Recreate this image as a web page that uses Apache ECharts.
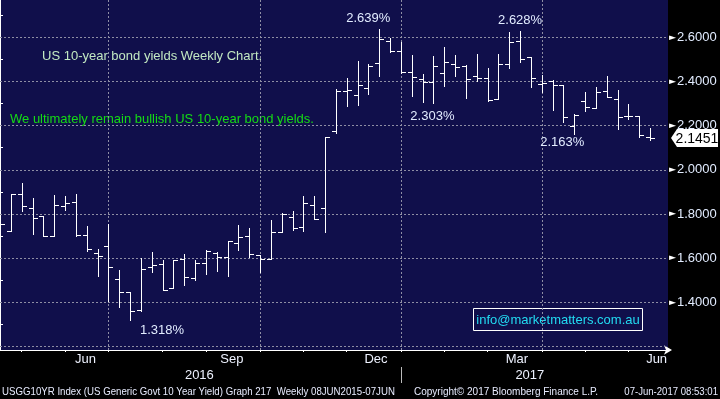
<!DOCTYPE html>
<html>
<head>
<meta charset="utf-8">
<script src="https://cdn.jsdelivr.net/npm/echarts@6/dist/echarts.min.js"></script>
<style>
  html, body { margin: 0; padding: 0; background: #000; }
  #chart { width: 720px; height: 399px; }
</style>
</head>
<body>
<div id="chart"></div>
<script>
// weekly OHLC, US 10y yield (bar index 0 = first visible week)
var opens  = [1.752, 1.724, 1.890, 1.826, 1.789, 1.699, 1.835, 1.853, 1.703, 1.622,
              1.653, 1.504, 1.445, 1.364, 1.558, 1.572, 1.463, 1.595, 1.508, 1.576,
              1.622, 1.604, 1.667, 1.699, 1.613, 1.596, 1.717, 1.788, 1.739, 1.839,
              1.828, 2.174, 2.357, 2.337, 2.369, 2.482, 2.582, 2.537, 2.444, 2.410,
              2.396, 2.437, 2.478, 2.469, 2.423, 2.414, 2.322, 2.479, 2.582, 2.509,
              2.387, 2.401, 2.383, 2.198, 2.311, 2.278, 2.358, 2.322, 2.245, 2.245,
              2.150];
var closes = [1.754, 1.890, 1.836, 1.780, 1.699, 1.839, 1.851, 1.703, 1.640, 1.608,
              1.558, 1.445, 1.360, 1.549, 1.567, 1.454, 1.590, 1.513, 1.576, 1.632,
              1.604, 1.676, 1.694, 1.617, 1.595, 1.717, 1.798, 1.735, 1.848, 1.776,
              2.150, 2.357, 2.360, 2.383, 2.469, 2.591, 2.537, 2.444, 2.419, 2.398,
              2.469, 2.487, 2.464, 2.410, 2.414, 2.315, 2.479, 2.577, 2.500, 2.414,
              2.392, 2.383, 2.238, 2.249, 2.283, 2.354, 2.328, 2.238, 2.245, 2.158,
              2.1451];
var lows   = [1.748, 1.724, 1.815, 1.708, 1.699, 1.699, 1.819, 1.699, 1.631, 1.520,
              1.406, 1.380, 1.318, 1.359, 1.538, 1.454, 1.463, 1.480, 1.499, 1.529,
              1.543, 1.520, 1.637, 1.606, 1.538, 1.596, 1.717, 1.727, 1.724, 1.776,
              1.720, 2.168, 2.290, 2.295, 2.342, 2.426, 2.532, 2.437, 2.336, 2.308,
              2.303, 2.381, 2.426, 2.326, 2.403, 2.313, 2.322, 2.460, 2.489, 2.376,
              2.351, 2.271, 2.218, 2.163, 2.268, 2.278, 2.328, 2.183, 2.229, 2.150,
              2.135];
var highs  = [1.758, 1.890, 1.939, 1.871, 1.789, 1.886, 1.880, 1.890, 1.745, 1.640,
              1.753, 1.546, 1.445, 1.599, 1.626, 1.591, 1.591, 1.617, 1.591, 1.635,
              1.626, 1.676, 1.750, 1.735, 1.614, 1.773, 1.803, 1.813, 1.881, 1.881,
              2.150, 2.365, 2.414, 2.493, 2.479, 2.639, 2.595, 2.580, 2.521, 2.434,
              2.515, 2.556, 2.521, 2.475, 2.524, 2.461, 2.524, 2.623, 2.628, 2.509,
              2.428, 2.407, 2.383, 2.253, 2.354, 2.376, 2.425, 2.361, 2.297, 2.245,
              2.188];

var monthPos   = [7.9, 21.4, 34.7, 47.7, 60.6];
var monthNames = ['Jun', 'Sep', 'Dec', 'Mar', 'Jun'];
var monthTicks = [2, 6, 10, 15, 19, 24, 28, 32, 37, 41, 45, 50, 54, 58];
var quarterLines = [10, 24, 37, 50];
var yearPos   = [18.4, 48.9];
var yearNames = ['2016', '2017'];
var yearBreak = [37];
var yTicks    = [1.4, 1.6, 1.8, 2.0, 2.2, 2.4, 2.6];
var yMinor    = [1.3, 1.5, 1.7, 1.9, 2.1, 2.3, 2.5, 2.7];
var yGrid     = [1.2, 1.4, 1.6, 1.8, 2.0, 2.2, 2.4, 2.6];

// highs / lows called out on the chart: [bar index, 'high'|'low', label offset]
var callouts = [
  [35, 'high', [-11, -10]],
  [48, 'high', [0, -11]],
  [40, 'low', [-1, 14]],
  [53, 'low', [-12, 9]],
  [12, 'low', [32, 10]]
];

var X_MAX = 61.65;
var FONT = 'Liberation Sans, Arial, sans-serif';
var FOOT = '11px Liberation Sans, Arial, sans-serif';
var LABEL = '#e2ecff';

var ohlc = opens.map(function (o, i) {
  return [i, o, closes[i], lows[i], highs[i]];
});
var last = closes[closes.length - 1];

function lookup(pos, names) {
  return function (v) {
    for (var k = 0; k < pos.length; k++) {
      if (Math.abs(pos[k] - v) < 0.01) return names[k];
    }
    return '';
  };
}

var marks = callouts.map(function (c) {
  var v = c[1] === 'high' ? highs[c[0]] : lows[c[0]];
  return { coord: [c[0], v], value: v, label: { offset: c[2] } };
});

var dom = document.getElementById('chart');
var myChart = echarts.init(dom);

var option = {
  backgroundColor: '#000',
  animation: false,
  grid: {
    left: 0, right: 52, top: 0, bottom: 49,
    show: true, backgroundColor: '#100f4b', borderWidth: 0
  },
  xAxis: [{
    type: 'value', position: 'bottom', min: 0, max: X_MAX,
    splitLine: { show: false },
    axisLine: { lineStyle: { color: '#fff', width: 1 }, symbol: ['none', 'arrow'], symbolSize: [7, 8], symbolOffset: [0, 4] },
    axisTick: { customValues: monthTicks, length: 2, lineStyle: { color: '#fff' } },
    axisLabel: {
      customValues: monthPos, formatter: lookup(monthPos, monthNames),
      color: '#eef2ff', fontFamily: FONT, fontSize: 13, margin: 3
    }
  }, {
    type: 'value', position: 'bottom', min: 0, max: X_MAX, offset: 17,
    splitLine: { show: false },
    axisLine: { show: false },
    axisTick: { customValues: yearBreak, length: 16, lineStyle: { color: '#bbb' } },
    axisLabel: {
      customValues: yearPos, formatter: lookup(yearPos, yearNames),
      color: '#eef2ff', fontFamily: FONT, fontSize: 13, margin: 2
    }
  }],
  yAxis: [{
    type: 'value', position: 'right', min: 1.184, max: 2.769,
    splitLine: { show: false },
    axisLine: { show: true, lineStyle: { color: '#fff', width: 1 } },
    axisTick: { show: false },
    axisLabel: {
      customValues: yTicks, margin: 1,
      formatter: function (v) { return '{a|\u25BA}{b|' + v.toFixed(4) + '}'; },
      rich: {
        a: { color: '#fff', fontSize: 9, fontFamily: 'DejaVu Sans', padding: [0, 1, 0, 0] },
        b: { color: LABEL, fontSize: 13, fontFamily: FONT }
      }
    }
  }, {
    type: 'value', position: 'right', min: 1.184, max: 2.769,
    splitLine: { show: false },
    axisLine: { show: false },
    axisTick: { customValues: yMinor, length: 3, lineStyle: { color: '#fff' } },
    axisLabel: { show: false }
  }],
  series: [{
    type: 'custom',
    clip: true,
    data: ohlc,
    encode: { x: 0, y: [1, 2, 3, 4] },
    renderItem: function (params, api) {
      var i = api.value(0);
      var x = Math.round(api.coord([i, 0])[0]) + 0.5;
      var yO = Math.round(api.coord([i, api.value(1)])[1]) + 0.5;
      var yC = Math.round(api.coord([i, api.value(2)])[1]) + 0.5;
      var yL = Math.round(api.coord([i, api.value(3)])[1]) + 1;
      var yH = Math.round(api.coord([i, api.value(4)])[1]);
      var st = { stroke: '#fff', lineWidth: 1 };
      return {
        type: 'group',
        children: [
          { type: 'line', shape: { x1: x, y1: yH, x2: x, y2: yL }, style: st },
          { type: 'line', shape: { x1: x - 4.5, y1: yO, x2: x, y2: yO }, style: st },
          { type: 'line', shape: { x1: x, y1: yC, x2: x + 4.5, y2: yC }, style: st }
        ]
      };
    },
    markLine: {
      z: 1, silent: true, symbol: 'none', animation: false,
      label: { show: false },
      lineStyle: { color: '#8e8ea4', type: [2, 2], width: 1 },
      data: quarterLines.map(function (v) { return { xAxis: v }; })
        .concat(yGrid.map(function (v) { return { yAxis: v }; }))
    },
    markPoint: {
      silent: true, animation: false,
      symbol: 'circle', symbolSize: 1,
      itemStyle: { color: 'rgba(0,0,0,0)' },
      label: {
        show: true, position: 'inside', color: LABEL, fontFamily: FONT, fontSize: 13,
        formatter: function (p) { return p.value.toFixed(3) + '%'; }
      },
      data: marks
    }
  }, {
    // last price tag on the right axis
    type: 'custom',
    clip: false,
    z: 5,
    data: [[X_MAX, last]],
    renderItem: function (params, api) {
      var p = api.coord([api.value(0), api.value(1)]);
      var x = Math.round(p[0]), y = Math.round(p[1]);
      return {
        type: 'group',
        children: [
          { type: 'polygon', shape: { points: [[x + 3, y], [x + 9, y - 9], [x + 50, y - 9], [x + 50, y + 9], [x + 9, y + 9]] },
            style: { fill: '#fff' } },
          { type: 'text', x: x + 29, y: y + 1,
            style: { text: api.value(1).toFixed(4), fill: '#000', font: '14px ' + FONT, align: 'center', verticalAlign: 'middle' } }
        ]
      };
    }
  }],
  graphic: [
    { type: 'text', x: 42, y: 56, style: { text: 'US 10-year bond yields Weekly Chart.', fill: '#c2e8c2', font: '13px ' + FONT, textVerticalAlign: 'middle' } },
    { type: 'text', x: 10, y: 119, style: { text: 'We ultimately remain bullish US 10-year bond yields.', fill: '#14dc14', font: '13px ' + FONT, textVerticalAlign: 'middle' } },
    { type: 'rect', shape: { x: 473.5, y: 308.5, width: 169, height: 22 }, style: { fill: 'none', stroke: '#fff', lineWidth: 1 } },
    { type: 'text', x: 558, y: 320, style: { text: 'info@marketmatters.com.au', fill: '#22dcf2', font: '13px ' + FONT, textAlign: 'center', textVerticalAlign: 'middle' } },
    { type: 'text', x: 2, y: 392, scaleX: 0.88, style: { text: 'USGG10YR Index (US Generic Govt 10 Year Yield) Graph 217  Weekly 08JUN2015-07JUN', fill: '#e8ecff', font: FOOT, textVerticalAlign: 'middle' } },
    { type: 'text', x: 414, y: 392, scaleX: 0.91, style: { text: 'Copyright\u00A9 2017 Bloomberg Finance L.P.', fill: '#e8ecff', font: FOOT, textVerticalAlign: 'middle' } },
    { type: 'text', x: 718, y: 392, scaleX: 0.87, style: { text: '07-Jun-2017 08:53:01', fill: '#e8ecff', font: FOOT, textAlign: 'right', textVerticalAlign: 'middle' } }
  ]
};

myChart.setOption(option, true);
</script>
</body>
</html>
